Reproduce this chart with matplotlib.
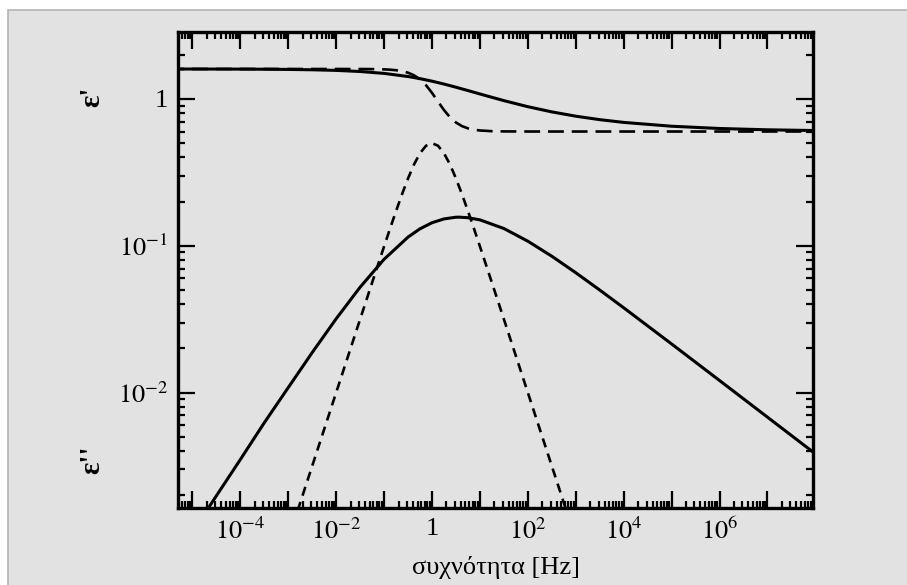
import numpy as np
import matplotlib
matplotlib.use("Agg")
import matplotlib.pyplot as plt
from matplotlib.patches import Rectangle
from matplotlib.ticker import FixedLocator, LogLocator, NullFormatter, FuncFormatter

plt.rcParams['font.family'] = ['Liberation Serif', 'DejaVu Serif']
plt.rcParams['mathtext.fontset'] = 'stix'

# solid curves (broad relaxation), log10 of frequency
hn_logf = [-5.5, -5, -4.5, -4, -3.5, -3, -2.5, -2, -1.5, -1, -0.5, -0.25, 0, 0.25,
           0.5, 0.57, 0.75, 1, 1.5, 2, 2.5, 3, 3.5, 4, 5, 6, 7, 8]
hn_eps1 = [1.5994, 1.5989, 1.5980, 1.5965, 1.5938, 1.5888, 1.5802, 1.5648, 1.5381,
           1.4930, 1.4216, 1.3749, 1.3215, 1.2632, 1.2021, 1.1844, 1.1408, 1.0813,
           0.9739, 0.8857, 0.8164, 0.7632, 0.7227, 0.6922, 0.6519, 0.6292, 0.6164, 0.6092]
hn_eps2 = [0.000629, 0.001118, 0.00198, 0.003498, 0.00623, 0.010812, 0.018735, 0.031824,
           0.052231, 0.080932, 0.11462, 0.13053, 0.14352, 0.15238, 0.15650, 0.1566,
           0.15534, 0.15012, 0.13109, 0.10743, 0.084885, 0.06552, 0.049952, 0.03781,
           0.021438, 0.012087, 0.006803, 0.003827]

# dashed curves (single relaxation)
d_logf = [-5.5, -3, -2.5, -2, -1.5, -1.25, -1, -0.875, -0.75, -0.625, -0.5, -0.375, -0.25,
          -0.125, 0, 0.125, 0.25, 0.375, 0.5, 0.625, 0.75, 0.875, 1, 1.25, 1.5, 2, 2.5, 3, 8]
d_eps1 = [1.6, 1.6, 1.6, 1.5999, 1.599, 1.5968, 1.5901, 1.5825, 1.5693, 1.5468, 1.5091,
          1.4490, 1.3598, 1.2401, 1.1, 0.9599, 0.8403, 0.7510, 0.6909, 0.6532, 0.6307,
          0.6175, 0.6099, 0.6032, 0.6010, 0.6001, 0.6, 0.6, 0.6]
d_eps2 = [3.16e-6, 0.001, 0.003162, 0.0100, 0.0316, 0.05605, 0.0990, 0.1310, 0.1724,
          0.2245, 0.2875, 0.3580, 0.4272, 0.4800, 0.5, 0.4800, 0.4272, 0.3580, 0.2875,
          0.2245, 0.1724, 0.1310, 0.0990, 0.05605, 0.0316, 0.0100, 0.003162, 0.001, 1e-8]

xdec = list(range(-5, 8))
xlab_dec = [-4, -2, 0, 2, 4, 6]
ydec = [-2, -1, 0]

bg = '#e2e2e2'
fig = plt.figure(figsize=(9.07, 5.85), dpi=100, facecolor='white')
fig.patches.append(Rectangle((8 / 907, -0.01), 1, (575 / 585) + 0.01, transform=fig.transFigure,
                             facecolor=bg, edgecolor='#b4b4b4', lw=1.2, zorder=-10))
ax = fig.add_axes([178 / 907, 77 / 585, 635 / 907, 476 / 585])
ax.set_facecolor(bg)

f_hn = 10 ** np.array(hn_logf)
f_d = 10 ** np.array(d_logf)
ax.plot(f_hn, hn_eps1, 'k-', lw=2.2)
ax.plot(f_hn, hn_eps2, 'k-', lw=2.2)
ax.plot(f_d, d_eps1, 'k', lw=1.9, ls=(0, (6, 3)))
ax.plot(f_d, d_eps2, 'k', lw=1.9, ls=(0, (3.5, 2.5)))

ax.set_xscale('log')
ax.set_yscale('log')
ax.set_xlim(10 ** -5.30, 10 ** 7.95)
ax.set_ylim(10 ** -2.786, 10 ** 0.456)

def dec_label(v, pos):
    n = int(round(np.log10(v)))
    if n == 0:
        return '1'
    return r'$10^{%d}$' % n

def x_label(v, pos):
    n = int(round(np.log10(v)))
    if n not in xlab_dec:
        return ''
    return dec_label(v, pos)

ax.xaxis.set_major_locator(FixedLocator([10.0 ** k for k in xdec]))
ax.xaxis.set_major_formatter(FuncFormatter(x_label))
ax.xaxis.set_minor_locator(LogLocator(base=10, subs=np.arange(2, 10), numticks=100))
ax.xaxis.set_minor_formatter(NullFormatter())
ax.yaxis.set_major_locator(FixedLocator([10.0 ** k for k in ydec]))
ax.yaxis.set_major_formatter(FuncFormatter(dec_label))
ax.yaxis.set_minor_locator(LogLocator(base=10, subs=np.arange(2, 10), numticks=100))
ax.yaxis.set_minor_formatter(NullFormatter())

ax.tick_params(which='both', direction='in', top=True, right=True, width=1.6, color='black')
ax.tick_params(which='major', length=12, labelsize=19, pad=7)
ax.tick_params(which='minor', length=5)
for s in ax.spines.values():
    s.set_linewidth(2.4)

ax.set_xlabel('συχνότητα [Hz]', fontsize=19, labelpad=9)
fig.text(92 / 907, 1 - 97 / 585, "ε'", rotation=90, fontsize=21, fontweight='bold',
         ha='center', va='center')
fig.text(92 / 907, 1 - 460 / 585, "ε''", rotation=90, fontsize=21, fontweight='bold',
         ha='center', va='center')

fig.savefig('out.png', dpi=100, facecolor=fig.get_facecolor())
